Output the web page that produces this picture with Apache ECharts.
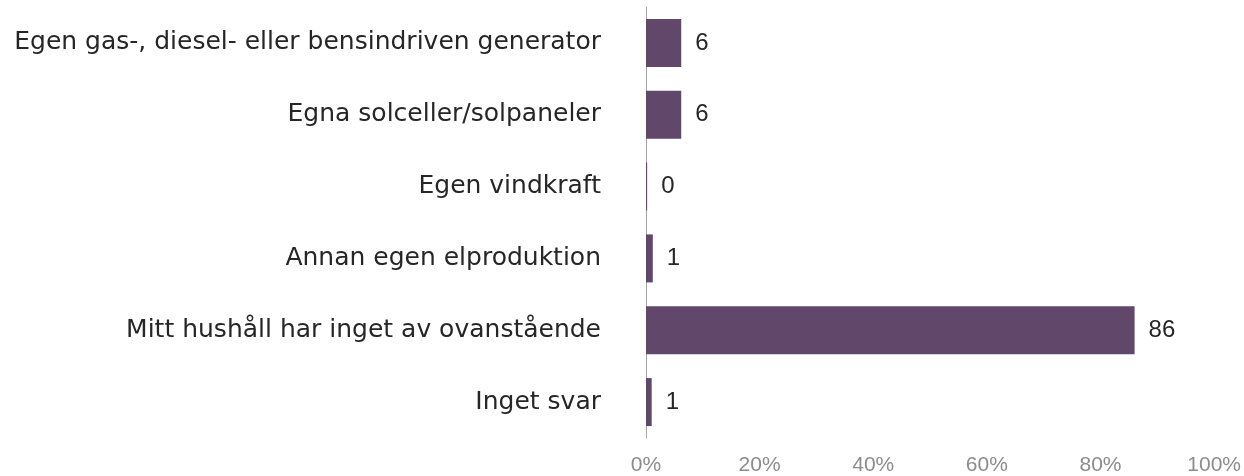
<!DOCTYPE html>
<html>
<head>
<meta charset="utf-8">
<script src="https://cdn.jsdelivr.net/npm/echarts@6/dist/echarts.min.js"></script>
<style>
  html, body { margin: 0; padding: 0; background: #fff; }
  #chart { width: 1244px; height: 476px; }
</style>
</head>
<body>
<div id="chart"></div>
<script>
// svarsalternativ, uppifrån och ned
var categories = [
  'Egen gas-, diesel- eller bensindriven generator',
  'Egna solceller/solpaneler',
  'Egen vindkraft',
  'Annan egen elproduktion',
  'Mitt hushåll har inget av ovanstående',
  'Inget svar'
];
// andel i procent
var shares = [6.2, 6.2, 0.2, 1.2, 86, 1.0];
// etiketter som visas vid staplarna
var shareLabels = ['6', '6', '0', '1', '86', '1'];
var xTicks = [0, 20, 40, 60, 80, 100];

var chart = echarts.init(document.getElementById('chart'));

chart.setOption({
  animation: false,
  grid: {
    left: 646,
    right: 29,
    top: 7,
    bottom: 37
  },
  xAxis: {
    type: 'value',
    min: xTicks[0],
    max: xTicks[xTicks.length - 1],
    interval: xTicks[1] - xTicks[0],
    axisLine: { show: false },
    axisTick: { show: false },
    splitLine: { show: false },
    axisLabel: {
      formatter: '{value}%',
      color: '#8c8c8c',
      fontFamily: 'Liberation Sans, Arial, sans-serif',
      fontSize: 21,
      margin: 17
    }
  },
  yAxis: {
    type: 'category',
    inverse: true,
    data: categories,
    axisLine: { show: true, lineStyle: { color: '#a6a6a6', width: 1 } },
    axisTick: { show: false },
    axisLabel: {
      color: '#262626',
      fontFamily: 'DejaVu Sans, sans-serif',
      fontSize: 25,
      margin: 45
    }
  },
  series: [{
    type: 'bar',
    data: shares,
    barWidth: 48,
    itemStyle: { color: '#61486a' },
    label: {
      show: true,
      position: 'right',
      distance: 14,
      color: '#262626',
      fontFamily: 'Liberation Sans, Arial, sans-serif',
      fontSize: 24,
      formatter: function (p) { return shareLabels[p.dataIndex]; }
    }
  }]
});
</script>
</body>
</html>
